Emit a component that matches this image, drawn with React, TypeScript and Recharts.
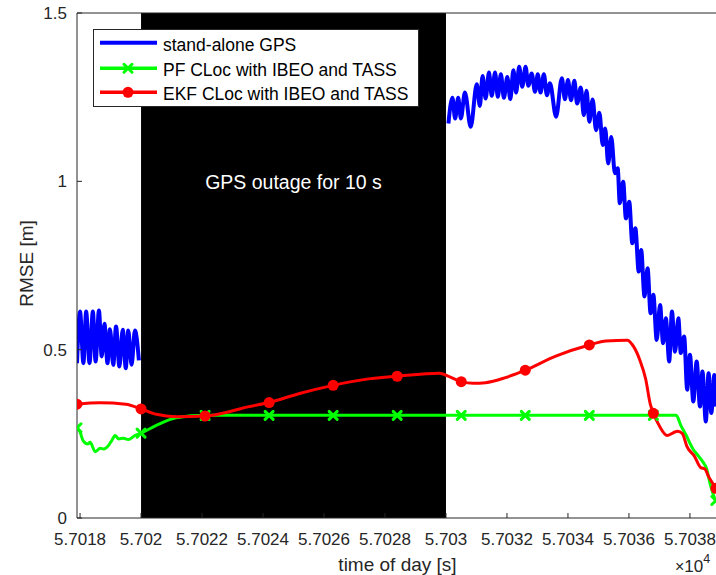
import { LineChart, Line, XAxis, YAxis, ReferenceArea, Label } from 'recharts'

const FONT = '"Liberation Sans", Arial, Helvetica, sans-serif'
const AX = '#262626'

// marker positions (every ~2.1 s)
const markT = [57017.9, 57020.0, 57022.1, 57024.2, 57026.3, 57028.4, 57030.5, 57032.6, 57034.7, 57036.8, 57038.85]

const xTicks = [57018, 57020, 57022, 57024, 57026, 57028, 57030, 57032, 57034, 57036, 57038]
const xTickLabels = ['5.7018', '5.702', '5.7022', '5.7024', '5.7026', '5.7028', '5.703', '5.7032', '5.7034', '5.7036', '5.7038']
const yTicks = [0, 0.5, 1, 1.5]
const yTickLabels = ['0', '0.5', '1', '1.5']

const seriesNames = ['stand-alone GPS', 'PF CLoc with IBEO and TASS', 'EKF CLoc with IBEO and TASS']

// stand-alone GPS, before the outage
const gpsT1 = [57017.9, 57018.0, 57018.11, 57018.2, 57018.31, 57018.42, 57018.51, 57018.62, 57018.71, 57018.8, 57018.9,
  57018.98, 57019.09, 57019.18, 57019.29, 57019.4, 57019.5, 57019.58, 57019.69, 57019.8, 57019.93]
const gpsV1 = [0.46, 0.613, 0.46, 0.613, 0.46, 0.613, 0.465, 0.616, 0.48, 0.577, 0.46,
  0.561, 0.455, 0.569, 0.45, 0.559, 0.445, 0.557, 0.455, 0.557, 0.468]

// stand-alone GPS, after the outage
const gpsT2 = [57030.08, 57030.21, 57030.3, 57030.4, 57030.49, 57030.62, 57030.81, 57031.01, 57031.11, 57031.2,
  57031.3, 57031.41, 57031.5, 57031.61, 57031.7, 57031.8, 57031.9, 57032.01, 57032.11, 57032.21,
  57032.3, 57032.4, 57032.5, 57032.61, 57032.7, 57032.81, 57032.92, 57033.01, 57033.1, 57033.21,
  57033.31, 57033.41, 57033.61, 57033.8, 57033.9, 57034.0, 57034.1, 57034.21, 57034.3, 57034.42,
  57034.52, 57034.61, 57034.7, 57034.81, 57034.92, 57035.03, 57035.14, 57035.22, 57035.32, 57035.42,
  57035.54, 57035.63, 57035.7, 57035.81, 57035.9, 57036.01, 57036.11, 57036.21, 57036.32, 57036.4,
  57036.51, 57036.61, 57036.71, 57036.8, 57036.91, 57037.02, 57037.12, 57037.21, 57037.32, 57037.41,
  57037.51, 57037.62, 57037.7, 57037.81, 57037.91, 57038.0, 57038.11, 57038.22, 57038.33, 57038.41,
  57038.52, 57038.61, 57038.7, 57038.8, 57038.85]
const gpsV2 = [1.172, 1.248, 1.187, 1.248, 1.187, 1.264, 1.162, 1.288, 1.224, 1.313,
  1.246, 1.323, 1.254, 1.323, 1.251, 1.318, 1.248, 1.31, 1.244, 1.33,
  1.264, 1.34, 1.281, 1.34, 1.284, 1.32, 1.266, 1.318, 1.264, 1.318,
  1.256, 1.291, 1.192, 1.306, 1.244, 1.301, 1.241, 1.299, 1.231, 1.279,
  1.197, 1.269, 1.177, 1.243, 1.152, 1.204, 1.108, 1.157, 1.053, 1.132,
  1.024, 1.039, 0.935, 0.999, 0.89, 0.939, 0.816, 0.861, 0.732, 0.796,
  0.658, 0.742, 0.608, 0.663, 0.529, 0.633, 0.519, 0.593, 0.465, 0.613,
  0.494, 0.593, 0.49, 0.539, 0.381, 0.485, 0.346, 0.465, 0.331, 0.435,
  0.287, 0.43, 0.312, 0.425, 0.331]

// PF CLoc
const pfT = [57017.9, 57018.0, 57018.1, 57018.25, 57018.33, 57018.5, 57018.66, 57018.77, 57018.93, 57019.04,
  57019.15, 57019.26, 57019.42, 57019.58, 57019.8, 57020.0, 57020.5, 57021.15, 57022.1, 57024.2,
  57026.3, 57028.4, 57030.5, 57032.6, 57034.7, 57036.8, 57037.55, 57037.7, 57037.88, 57038.1,
  57038.27, 57038.43, 57038.55, 57038.65, 57038.85, 57038.92]
const pfV = [0.268, 0.255, 0.23, 0.22, 0.225, 0.197, 0.207, 0.205, 0.215, 0.23,
  0.245, 0.235, 0.237, 0.233, 0.245, 0.252, 0.275, 0.298, 0.305, 0.305,
  0.305, 0.305, 0.305, 0.305, 0.305, 0.305, 0.305, 0.275, 0.245, 0.205,
  0.185, 0.166, 0.146, 0.106, 0.052, 0.045]

// EKF CLoc
const ekfT = [57017.9, 57018.65, 57019.5, 57020.0, 57020.5, 57021.15, 57022.1, 57022.95, 57023.5, 57024.2,
  57025.2, 57026.3, 57027.3, 57028.4, 57029.8, 57030.05, 57030.5, 57030.9, 57031.3, 57031.95,
  57032.6, 57033.6, 57034.7, 57035.25, 57035.95, 57036.1, 57036.35, 57036.55, 57036.7, 57036.8,
  57037.0, 57037.25, 57037.45, 57037.6, 57037.75, 57037.9, 57038.15, 57038.35, 57038.5, 57038.6,
  57038.85, 57038.92]
const ekfV = [0.338, 0.342, 0.338, 0.324, 0.308, 0.301, 0.303, 0.317, 0.33, 0.343,
  0.37, 0.394, 0.411, 0.421, 0.43, 0.422, 0.405, 0.4, 0.402, 0.417,
  0.439, 0.481, 0.514, 0.526, 0.528, 0.516, 0.471, 0.412, 0.338, 0.311,
  0.273, 0.245, 0.253, 0.258, 0.251, 0.213, 0.183, 0.15, 0.145, 0.125,
  0.088, 0.076]

const gpsData = [
  ...gpsT1.map((t, i) => ({ t, v: gpsV1[i] })),
  { t: 57025, v: null },
  ...gpsT2.map((t, i) => ({ t, v: gpsV2[i] })),
]
const pfData = pfT.map((t, i) => ({ t, v: pfV[i] }))
const ekfData = ekfT.map((t, i) => ({ t, v: ekfV[i] }))

const isMark = (t: number) => markT.some(m => Math.abs(m - t) < 1e-6)

function Cross({ cx, cy }: { cx: number; cy: number }) {
  const s = 4
  return (
    <g stroke="#00ff00" strokeWidth={3} strokeLinecap="round">
      <line x1={cx - s} y1={cy - s} x2={cx + s} y2={cy + s} />
      <line x1={cx - s} y1={cy + s} x2={cx + s} y2={cy - s} />
    </g>
  )
}

function pfDot(p: any) {
  const { cx, cy, payload, index } = p
  if (!isMark(payload.t)) return <g key={`pf${index}`} />
  return <g key={`pf${index}`}><Cross cx={cx} cy={cy} /></g>
}

function ekfDot(p: any) {
  const { cx, cy, payload, index } = p
  if (!isMark(payload.t)) return <g key={`ekf${index}`} />
  return <circle key={`ekf${index}`} cx={cx} cy={cy} r={5.5} fill="#ff0000" />
}

function YTitle(props: any) {
  const vb = props.viewBox || { y: 13, height: 505 }
  const cx = 33
  const cy = vb.y + vb.height / 2 - 2
  return (
    <text x={cx} y={cy} transform={`rotate(-90 ${cx} ${cy})`} textAnchor="middle"
      fontSize={19} fontFamily={FONT} fill={AX}>RMSE [m]</text>
  )
}

const tickStyle = { fontSize: 17, fill: AX, fontFamily: FONT }

export default function App() {
  return (
    <div style={{ position: 'absolute', left: 0, top: 0, width: 716, height: 575, overflow: 'hidden', background: '#fff' }}>
      <LineChart width={720} height={575} margin={{ top: 12, right: 1, left: 0, bottom: 0 }}>
        <XAxis dataKey="t" type="number" domain={[57017.9, 57038.92]} ticks={xTicks} interval={0}
          allowDataOverflow tickFormatter={(v: number) => xTickLabels[xTicks.indexOf(v)]}
          stroke={AX} tick={tickStyle} tickSize={-5} tickMargin={20} height={57}>
          <Label value="time of day [s]" position="insideBottom" offset={4} fontSize={19} fill={AX} fontFamily={FONT} />
        </XAxis>
        <XAxis xAxisId="top" orientation="top" dataKey="t" type="number" domain={[57017.9, 57038.92]}
          ticks={xTicks} interval={0} allowDataOverflow stroke={AX} tick={false} tickSize={-5} height={1} />
        <YAxis type="number" domain={[0, 1.5]} ticks={yTicks} interval={0}
          tickFormatter={(v: number) => yTickLabels[yTicks.indexOf(v)]}
          stroke={AX} tick={tickStyle} tickSize={-5} tickMargin={15} width={77}
          label={<Label content={YTitle} />} />
        <YAxis yAxisId="right" orientation="right" type="number" domain={[0, 1.5]} ticks={yTicks}
          interval={0} stroke={AX} tick={false} tickSize={-5} width={1} />

        <ReferenceArea x1={57020} x2={57030} y1={0} y2={1.5} fill="#000" fillOpacity={1} stroke="none">
          <Label value="GPS outage for 10 s" position="insideTop" offset={162} fill="#fff" fontSize={19.5} fontFamily={FONT} />
        </ReferenceArea>

        <Line data={gpsData} dataKey="v" name={seriesNames[0]} type="monotone" stroke="#0000ff" strokeWidth={4}
          dot={false} activeDot={false} isAnimationActive={false} connectNulls={false} />
        <Line data={pfData} dataKey="v" name={seriesNames[1]} type="monotone" stroke="#00ff00" strokeWidth={3}
          dot={pfDot} activeDot={false} isAnimationActive={false} />
        <Line data={ekfData} dataKey="v" name={seriesNames[2]} type="monotone" stroke="#ff0000" strokeWidth={3}
          dot={ekfDot} activeDot={false} isAnimationActive={false} />
      </LineChart>

      {/* x10^4 exponent */}
      <svg width={60} height={30} style={{ position: 'absolute', left: 660, top: 545 }}>
        <text x={15} y={26.5} fontFamily={FONT} fill={AX}>
          <tspan fontSize={16}>×</tspan>
          <tspan fontSize={17}>10</tspan>
          <tspan fontSize={12.5} dy={-9}>4</tspan>
        </text>
      </svg>

      {/* legend */}
      <div style={{ position: 'absolute', left: 93, top: 29, width: 324, height: 76, border: `1px solid ${AX}`, background: '#fff' }}>
        <svg width={324} height={76} style={{ display: 'block' }}>
          <line x1={6} x2={63} y1={12.7} y2={12.7} stroke="#0000ff" strokeWidth={4} />
          <line x1={6} x2={63} y1={38.3} y2={38.3} stroke="#00ff00" strokeWidth={3.5} />
          <Cross cx={34} cy={38.3} />
          <line x1={6} x2={63} y1={62.3} y2={62.3} stroke="#ff0000" strokeWidth={3.5} />
          <circle cx={34} cy={62.3} r={5.5} fill="#ff0000" />
          {seriesNames.map((n, i) => (
            <text key={n} x={69} y={[20.7, 46.3, 70.3][i]} fontSize={17.5} fontFamily={FONT} fill="#000">{n}</text>
          ))}
        </svg>
      </div>
    </div>
  )
}
